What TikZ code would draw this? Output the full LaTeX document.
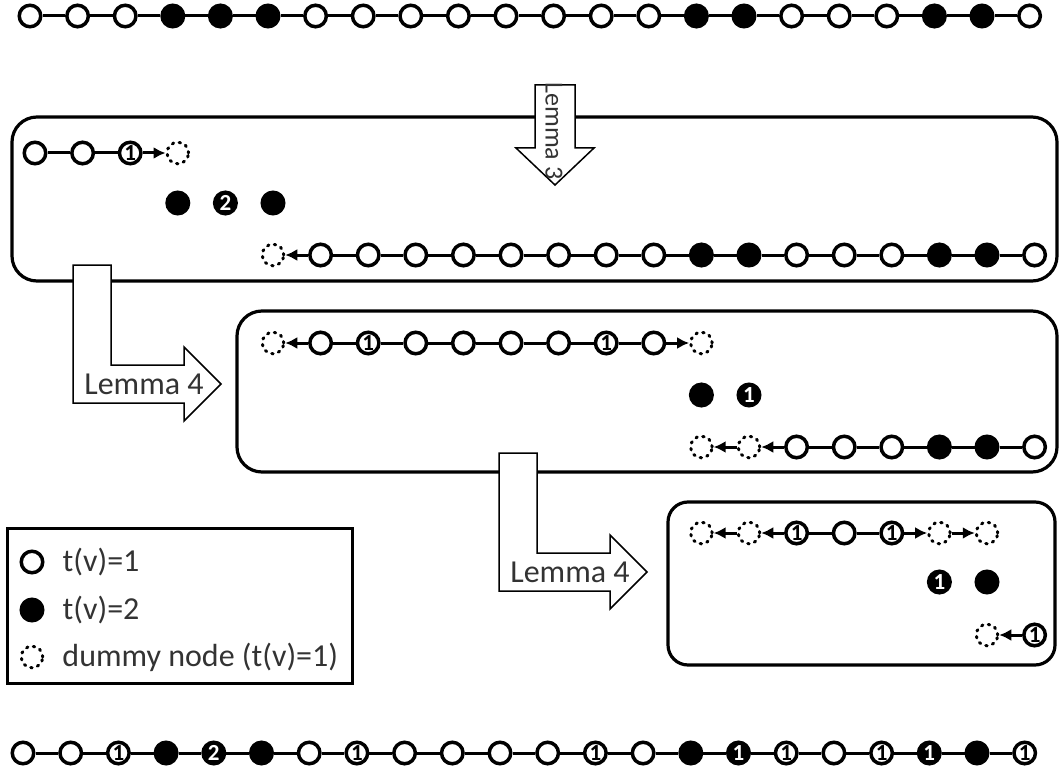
\documentclass[tikz,border=0pt]{standalone}
\usepackage{fontspec}
\setmainfont{Carlito}
\usetikzlibrary{arrows.meta, positioning}
\newcommand\numfont{\fontsize{23}{23}\selectfont\bfseries}
\newcommand\bigfont{\fontsize{32}{32}\selectfont}

\begin{document}
\begin{tikzpicture}[
    x=1pt, y=-1pt,
    vtx/.style={circle, minimum size=21.5pt, inner sep=0pt, line width=3.5pt},
    vw/.style={vtx, draw=black, fill=white},
    vb/.style={vtx, draw=black, fill=black},
    vd/.style={vtx, draw=black, line width=3pt, line cap=round, dash pattern=on 1.5pt off 5.5pt},
    vw1/.style={vw, label={[font=\numfont, inner sep=0pt]center:1}},
    vb1/.style={vb, label={[font=\numfont, text=white, inner sep=0pt]center:1}},
    vb2/.style={vb, label={[font=\numfont, text=white, inner sep=0pt]center:2}},
    link/.style={line width=3pt},
    pointer/.style={line width=3pt, -{Latex[length=12pt, width=12pt]}},
    panel/.style={line width=3.2pt, rounded corners=25pt},
    bigarrow/.style={draw, fill=white, line width=1.5pt, line join=miter},
    lemma/.style={font=\bigfont, text=black!80, inner sep=0pt},
    legtext/.style={font=\bigfont, text=black!80, inner sep=0pt}
  ]
  \useasboundingbox (0,0) rectangle (1060,773);

  % input chain
  \foreach \s [count=\i from 0] in {vw,vw,vw,vb,vb,vb,vw,vw,vw,vw,vw,vw,vw,vw,vb,vb,vw,vw,vw,vb,vb,vw}
    \node[\s] (in\i) at ({30+47.6*\i},16) {};
  \foreach \i [evaluate=\i as \j using int(\i-1)] in {1,...,21}
    \draw[link] (in\j) -- (in\i);

  % first panel
  \draw[panel] (12,117) rectangle (1057,281);
  \foreach \i/\s in {0/vw,1/vw,2/vw1,3/vd}
    \node[\s] (pa\i) at ({35+47.6*\i},153) {};
  \draw[link] (pa0) -- (pa1);
  \draw[link] (pa1) -- (pa2);
  \draw[pointer] (pa2) -- (pa3);
  \foreach \i/\s in {3/vb,4/vb2,5/vb}
    \node[\s] (pb\i) at ({35+47.6*\i},203) {};
  \node[vd] (pc5) at ({35+47.6*5},255) {};
  \foreach \s [count=\i from 6] in {vw,vw,vw,vw,vw,vw,vw,vw,vb,vb,vw,vw,vw,vb,vb,vw}
    \node[\s] (pc\i) at ({35+47.6*\i},255) {};
  \draw[pointer] (pc6) -- (pc5);
  \foreach \i [evaluate=\i as \j using int(\i-1)] in {7,...,21}
    \draw[link] (pc\j) -- (pc\i);

  % Lemma 3
  \draw[bigarrow] (535,85) -- (575,85) -- (575,148) -- (594,148) -- (555,185)
    -- (516,148) -- (535,148) -- cycle;
  \node[lemma, rotate=-90, font=\fontsize{26}{26}\selectfont] (lem3) at (554,131) {Lemma 3};

  % second panel
  \draw[panel] (237,311) rectangle (1057,472);
  \foreach \s [count=\i from 5] in {vd,vw,vw1,vw,vw,vw,vw,vw1,vw,vd}
    \node[\s] (qa\i) at ({35+47.6*\i},343) {};
  \draw[pointer] (qa6) -- (qa5);
  \foreach \i [evaluate=\i as \j using int(\i-1)] in {7,...,13}
    \draw[link] (qa\j) -- (qa\i);
  \draw[pointer] (qa13) -- (qa14);
  \foreach \i/\s in {14/vb,15/vb1}
    \node[\s] (qb\i) at ({35+47.6*\i},395) {};
  \foreach \s [count=\i from 14] in {vd,vd,vw,vw,vw,vb,vb,vw}
    \node[\s] (qc\i) at ({35+47.6*\i},447) {};
  \draw[pointer] (qc15) -- (qc14);
  \draw[pointer] (qc16) -- (qc15);
  \foreach \i [evaluate=\i as \j using int(\i-1)] in {17,...,21}
    \draw[link] (qc\j) -- (qc\i);

  % Lemma 4, first step
  \draw[bigarrow] (73,265) -- (111,265) -- (111,365) -- (184,365) -- (184,347)
    -- (221,384) -- (184,421) -- (184,403) -- (73,403) -- cycle;
  \node[lemma] (lem4a) at (144,384) {Lemma 4};

  % third panel
  \draw[panel, rounded corners=20pt] (668,502) rectangle (1055,665);
  \foreach \s [count=\i from 14] in {vd,vd,vw1,vw,vw1,vd,vd}
    \node[\s] (ra\i) at ({35+47.6*\i},533) {};
  \draw[pointer] (ra15) -- (ra14);
  \draw[pointer] (ra16) -- (ra15);
  \draw[link] (ra16) -- (ra17);
  \draw[link] (ra17) -- (ra18);
  \draw[pointer] (ra18) -- (ra19);
  \draw[pointer] (ra19) -- (ra20);
  \foreach \i/\s in {19/vb1,20/vb}
    \node[\s] (rb\i) at ({35+47.6*\i},582) {};
  \foreach \i/\s in {20/vd,21/vw1}
    \node[\s] (rc\i) at ({35+47.6*\i},635) {};
  \draw[pointer] (rc21) -- (rc20);

  % Lemma 4, second step
  \draw[bigarrow] (499,453) -- (537,453) -- (537,553) -- (610,553) -- (610,535)
    -- (647,572) -- (610,609) -- (610,591) -- (499,591) -- cycle;
  \node[lemma] (lem4b) at (570,572) {Lemma 4};

  % legend
  \draw[line width=3pt] (7,528) rectangle (352,683);
  \node[vw] (key1) at (32,562) {};
  \node[vb] (key2) at (32,610) {};
  \node[vd] (key3) at (32,657) {};
  \node[legtext, right=18pt of key1] {t(v)=1};
  \node[legtext, right=18pt of key2] {t(v)=2};
  \node[legtext, right=18pt of key3] {dummy node (t(v)=1)};

  % resulting chain
  \foreach \s [count=\i from 0] in {vw,vw,vw1,vb,vb2,vb,vw,vw1,vw,vw,vw,vw,vw1,vw,vb,vb1,vw1,vw,vw1,vb1,vb,vw1}
    \node[\s] (out\i) at ({23+47.7*\i},753) {};
  \foreach \i [evaluate=\i as \j using int(\i-1)] in {1,...,21}
    \draw[link] (out\j) -- (out\i);
\end{tikzpicture}
\end{document}
